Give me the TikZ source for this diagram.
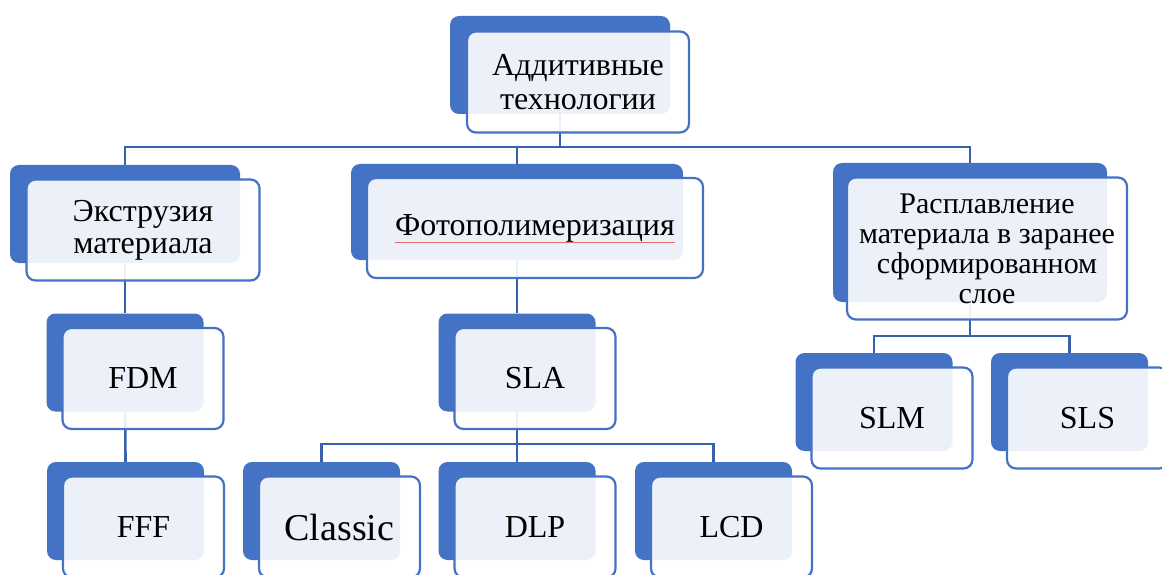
\documentclass[tikz,border=0pt]{standalone}
\usepackage{fontspec}
\setmainfont{Liberation Serif}
\usetikzlibrary{backgrounds}
\definecolor{myblue}{RGB}{68,114,196}
\definecolor{myline}{RGB}{58,98,172}
\definecolor{myred}{RGB}{232,110,110}
\tikzset{%
  myback/.style={rectangle, rounded corners=9pt, fill=myblue, inner sep=0pt,
    minimum width=157pt, minimum height=98pt},
  myfront/.style={rectangle, rounded corners=9pt, draw=myblue, line width=2.2pt,
    fill=white, fill opacity=0.9, text opacity=1, inner sep=0pt, align=center,
    minimum width=161pt, minimum height=101pt, font=\fontsize{32}{34}\selectfont},
  myedge/.style={draw=myline, line width=2.6pt}
}

\begin{document}
\begin{tikzpicture}[x=1pt,y=-1pt]
  \useasboundingbox (0,0) rectangle (1162,575);
  \node[myback, minimum width=220pt] (add) at (560,65) {};
  \node[myfront, minimum width=222pt] (addf) at ([shift={(18,17)}]add.center) {Аддитивные\\технологии};

  \node[myback, minimum width=230pt] (extr) at (125,214) {};
  \node[myfront, minimum width=233pt, font=\fontsize{32}{32}\selectfont] (extrf) at ([shift={(18,16)}]extr.center) {Экструзия\\материала};
  \node[myback, minimum width=332pt, minimum height=96pt] (photo) at (517,212) {};
  \node[myfront, minimum width=336pt, minimum height=100pt] (photof) at ([shift={(18,16)}]photo.center) {Фотополимеризация};
  \node[myback, minimum width=274pt, minimum height=139pt] (melt) at (970,232.5) {};
  \node[myfront, minimum width=280pt, minimum height=142pt, font=\fontsize{30}{30}\selectfont] (meltf) at ([shift={(17,16)}]melt.center) {Расплавление\\материала в заранее\\сформированном\\слое};

  \node[myback] (fdm) at (125,362.5) {};
  \node[myfront] (fdmf) at ([shift={(18,16)}]fdm.center) {FDM};
  \node[myback] (fff) at (125.5,511) {};
  \node[myfront] (ffff) at ([shift={(18,16)}]fff.center) {FFF};
  \node[myback] (sla) at (517,362.5) {};
  \node[myfront] (slaf) at ([shift={(18,16)}]sla.center) {SLA};
  \node[myback] (classic) at (321.5,511) {};
  \node[myfront, font=\fontsize{38}{42}\selectfont] (classicf) at ([shift={(18,16)}]classic.center) {Classic};
  \node[myback] (dlp) at (517,511) {};
  \node[myfront] (dlpf) at ([shift={(18,16)}]dlp.center) {DLP};
  \node[myback] (lcd) at (713.5,511) {};
  \node[myfront] (lcdf) at ([shift={(18,16)}]lcd.center) {LCD};
  \node[myback] (slm) at (874,402) {};
  \node[myfront] (slmf) at ([shift={(18,16)}]slm.center) {SLM};
  \node[myback] (sls) at (1069.5,402) {};
  \node[myfront] (slsf) at ([shift={(18,16)}]sls.center) {SLS};

  \draw[myred, line width=1pt] (395,242) -- (675,242);

  \coordinate (bus1) at (0,147);
  \coordinate (bus2) at (0,444);
  \coordinate (bus3) at (0,336);
  \begin{pgfonlayer}{background}
    \draw[myedge] (add.center) -- (add.center |- bus1) -| (extr.north);
    \draw[myedge] (photo.north |- bus1) -| (photo.north);
    \draw[myedge] (photo.north |- bus1) -| (melt.north);
    \draw[myedge] (extr.center) -- (fdm.north);
    \draw[myedge] (fdm.center) -- (fff.north);
    \draw[myedge] (photo.center) -- (sla.north);
    \draw[myedge] (sla.center) -- (sla.center |- bus2) -| (classic.north);
    \draw[myedge] (sla.center |- bus2) -| (dlp.north);
    \draw[myedge] (sla.center |- bus2) -| (lcd.north);
    \draw[myedge] (melt.center) -- (melt.center |- bus3) -| (slm.north);
    \draw[myedge] (melt.center |- bus3) -| (sls.north);
  \end{pgfonlayer}
\end{tikzpicture}
\end{document}
